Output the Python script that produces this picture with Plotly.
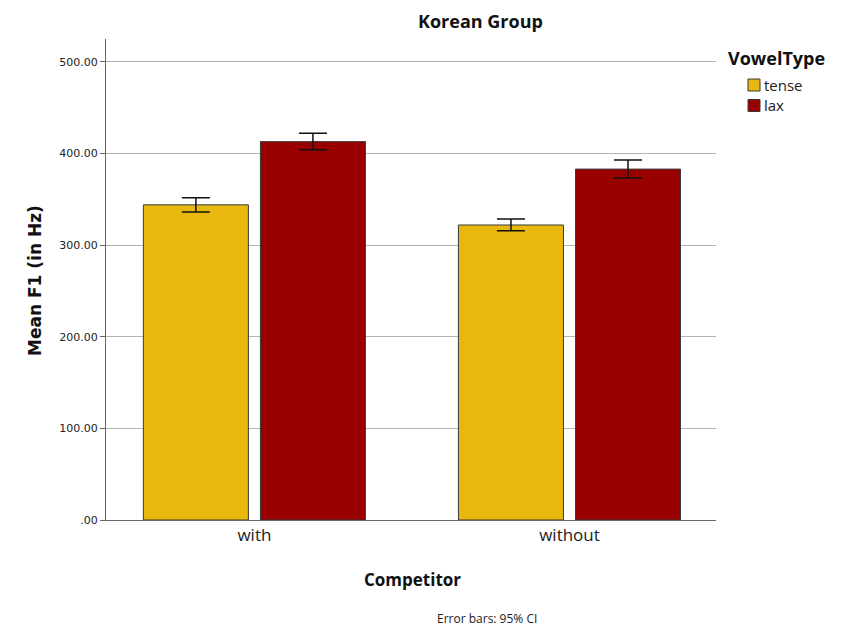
import plotly.graph_objects as go

competitor = ["with", "without"]
vowel_types = ["tense", "lax"]
tense_mean = [344, 322]
tense_ci = [7.7, 6.4]
lax_mean = [413, 383]
lax_ci = [9.0, 9.8]
y_ticks = [0, 100, 200, 300, 400, 500]
y_tick_text = [".00", "100.00", "200.00", "300.00", "400.00", "500.00"]

TENSE_COLOR = "#E8B80E"
LAX_COLOR = "#990000"

W, H = 841, 628
L, R, T, B = 106, 125, 39, 108

fig = go.Figure()
fig.add_trace(go.Bar(
    x=competitor, y=tense_mean, name=vowel_types[0],
    marker=dict(color=TENSE_COLOR, line=dict(color="#3a3a3a", width=1)),
    error_y=dict(type="data", array=tense_ci, color="#111111", thickness=1.5, width=14),
))
fig.add_trace(go.Bar(
    x=competitor, y=lax_mean, name=vowel_types[1],
    marker=dict(color=LAX_COLOR, line=dict(color="#3a3a3a", width=1)),
    error_y=dict(type="data", array=lax_ci, color="#111111", thickness=1.5, width=14),
))

fig.update_layout(
    width=W, height=H,
    margin=dict(l=L, r=R, t=T, b=B),
    paper_bgcolor="white", plot_bgcolor="white",
    barmode="group", bargap=0.257, bargroupgap=0.103,
    showlegend=False,
    font=dict(family="DejaVu Sans", color="#222"),
)

fig.update_xaxes(
    range=[-0.471, 1.465],
    showline=True, linecolor="#666", linewidth=1,
    ticks="", showgrid=False,
    tickfont=dict(family="Open Sans", size=17, color="#222"),
)
fig.update_yaxes(
    range=[0, 525], tickvals=y_ticks, ticktext=y_tick_text,
    showline=True, linecolor="#666", linewidth=1,
    ticks="outside", ticklen=5, tickcolor="#666",
    showgrid=True, gridcolor="#b4b4b4", gridwidth=1,
    zeroline=False,
    tickfont=dict(family="DejaVu Sans", size=11, color="#222"),
)

def px_x(px):
    return (px - L) / (W - L - R)

def px_y(py):
    return 1 - (py - T) / (H - T - B)

annots = [
    dict(text="<b>Korean Group</b>", x=px_x(480), y=px_y(21),
         font=dict(family="Open Sans", size=18, color="#111")),
    dict(text="<b>Mean F1 (in Hz)</b>", x=px_x(35), y=px_y(281), textangle=-90,
         font=dict(family="DejaVu Sans", size=17, color="#111")),
    dict(text="<b>Competitor</b>", x=px_x(412), y=px_y(579),
         font=dict(family="Open Sans", size=17, color="#111")),
    dict(text="Error bars: 95% CI", x=px_x(487), y=px_y(618),
         font=dict(family="Open Sans", size=12, color="#222")),
    dict(text="<b>VowelType</b>", x=px_x(776), y=px_y(58),
         font=dict(family="Open Sans", size=18, color="#111")),
]
for a in annots:
    fig.add_annotation(xref="paper", yref="paper", showarrow=False,
                       xanchor="center", yanchor="middle", **a)

# legend: colour swatches with labels
legend_rows = [(vowel_types[0], TENSE_COLOR, 85), (vowel_types[1], LAX_COLOR, 105.5)]
for label, color, yc in legend_rows:
    fig.add_shape(type="rect", xref="paper", yref="paper",
                  x0=px_x(748), x1=px_x(760), y0=px_y(yc + 6), y1=px_y(yc - 6),
                  fillcolor=color, line=dict(color="#3a3a3a", width=1))
    fig.add_annotation(xref="paper", yref="paper", showarrow=False,
                       xanchor="left", yanchor="middle",
                       x=px_x(762), y=px_y(yc), text=label,
                       font=dict(family="Open Sans", size=15, color="#222"))

fig.write_html("out.html")
